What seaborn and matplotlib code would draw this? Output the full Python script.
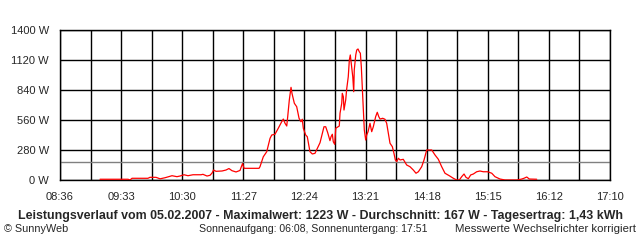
import numpy as np
import pandas as pd
import matplotlib
matplotlib.use("Agg")
import matplotlib.pyplot as plt
import seaborn as sns

# time in minutes since midnight, power in W
t_min = [553.4, 579.6, 581.4, 583.3, 598.2, 600.1, 605.7, 609.5, 614.1, 620.7,
         625.3, 628.1, 631.9, 635.6, 640.3, 647.8, 649.6, 653.4, 656.2, 658.1,
         659.5, 661.8, 667.4, 671.1, 673.9, 676.7, 680.5, 684.2, 686.6, 688.0,
         702.0, 702.9, 706.0, 709.2, 712.3, 713.9, 716.9, 720.0, 723.2, 724.7,
         726.3, 727.9, 728.8, 730.3, 731.9, 732.8, 735.0, 737.2, 739.4, 741.2,
         742.4, 743.4, 745.6, 747.1, 749.6, 751.8, 754.3, 756.5, 759.0, 761.5,
         762.7, 764.3, 766.2, 768.3, 769.3, 770.5, 771.4, 772.7, 773.7, 777.0,
         777.7, 779.3, 779.8, 780.8, 781.4, 783.0, 783.9, 785.4, 786.4, 787.3,
         788.6, 789.6, 790.5, 791.0, 792.4, 793.3, 794.5, 795.7, 796.7, 797.6,
         798.5, 799.5, 800.4, 801.7, 802.6, 803.9, 805.7, 807.3, 808.8, 811.0,
         812.5, 813.9, 815.1, 817.6, 819.7, 821.3, 822.8, 824.4, 826.6, 828.1,
         829.4, 830.7, 832.2, 833.8, 836.8, 840.0, 843.1, 846.2, 848.7, 850.9,
         854.0, 856.2, 858.7, 863.4, 866.5, 869.6, 872.7, 875.8, 879.8, 883.6,
         886.7, 889.2, 891.4, 893.6, 895.4, 897.6, 899.8, 902.3, 905.4, 908.5,
         911.6, 915.7, 919.5, 922.5, 927.2, 931.9, 943.4, 947.5, 949.6, 952.2,
         954.6, 961.5]
power_w = [7, 7, 0, 16, 16, 25, 25, 11, 21, 40,
           31, 37, 49, 40, 49, 49, 53, 37, 44, 65,
           93, 81, 84, 93, 107, 87, 75, 89, 154, 109,
           109, 124, 217, 264, 389, 420, 427, 483, 544, 569,
           529, 504, 591, 747, 865, 809, 716, 684, 576, 544,
           567, 483, 420, 404, 264, 243, 249, 296, 348, 451,
           497, 497, 441, 367, 404, 427, 357, 333, 483, 504,
           623, 716, 809, 777, 653, 747, 847, 964, 1120, 1167,
           1057, 964, 824, 1027, 1167, 1213, 1223, 1197, 1183, 1057,
           856, 653, 467, 373, 420, 451, 529, 451, 497, 591,
           632, 591, 569, 576, 567, 529, 436, 343, 311, 249,
           187, 171, 203, 187, 193, 140, 124, 93, 63, 77,
           124, 187, 280, 280, 233, 193, 124, 63, 40, 16,
           0, 0, 31, 56, 25, 12, 47, 56, 77, 84,
           77, 77, 63, 31, 9, 0, 0, 9, 16, 28,
           9, 7]

x_labels = ["08:36", "09:33", "10:30", "11:27", "12:24", "13:21",
            "14:18", "15:15", "16:12", "17:10"]
y_values = [0, 280, 560, 840, 1120, 1400]
y_labels = ["0 W", "280 W", "560 W", "840 W", "1120 W", "1400 W"]
average_w = 167

title = ("Leistungsverlauf vom 05.02.2007 - Maximalwert: 1223 W - "
         "Durchschnitt: 167 W - Tagesertrag: 1,43 kWh")
footer_left = "\u00a9 SunnyWeb"
footer_mid = "Sonnenaufgang: 06:08, Sonnenuntergang: 17:51"
footer_right = "Messwerte Wechselrichter korrigiert"

sns.set_style("white")
plt.rcParams['font.family'] = ['Liberation Sans', 'DejaVu Sans']

fig = plt.figure(figsize=(6.4, 2.4), dpi=100)
ax = fig.add_axes([60/640, 60/240, 550/640, 150/240])

df = pd.DataFrame({"t": t_min, "w": power_w})
x0, x1 = 516, 1030
ticks = np.linspace(x0, x1, 19)

for tx in ticks:
    ax.axvline(tx, color="black", lw=1.0, zorder=1)
for yv in y_values:
    ax.axhline(yv, color="black", lw=1.0, zorder=1)
ax.axhline(average_w, color="#808080", lw=1.0, zorder=1)

sns.lineplot(data=df, x="t", y="w", ax=ax, color="red", lw=0.9, zorder=3)

ax.set_xlim(x0, x1)
ax.set_ylim(0, 1400)
ax.set_xticks(ticks)
lab = []
for i in range(19):
    lab.append(x_labels[i // 2] if i % 2 == 0 else "")
ax.set_xticklabels(lab)
ax.set_yticks(y_values)
ax.set_yticklabels(y_labels)
ax.tick_params(axis="both", length=5, width=1.0, color="black",
               labelsize=8, pad=3, direction="out")
ax.tick_params(axis="x", pad=4)
ax.set_xlabel("")
ax.set_ylabel("")
for s in ax.spines.values():
    s.set_color("black")
    s.set_linewidth(1.0)

fig.text(320/640, 1 - 216/240, title, ha="center", va="center",
         fontsize=8.9, fontweight="bold")
fig.text(4/640, 1 - 229/240, footer_left, ha="left", va="center", fontsize=7.8)
fig.text(313/640, 1 - 229/240, footer_mid, ha="center", va="center", fontsize=7.6)
fig.text(636/640, 1 - 229/240, footer_right, ha="right", va="center", fontsize=8.2)

fig.savefig("out.png", dpi=100, facecolor="white")
